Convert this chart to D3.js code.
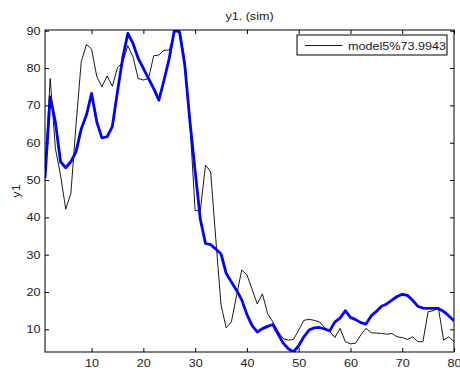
<!DOCTYPE html>
<html>
<head>
<meta charset="utf-8">
<script src="https://cdn.jsdelivr.net/npm/d3@7"></script>
<style>
  body { margin: 0; background: #fff; }
  text { font-family: "Liberation Sans", Arial, Helvetica, sans-serif; fill: #222; }
</style>
</head>
<body>
<div id="vis"></div>
<script>
// sample index 1..80
const steps = d3.range(1, 81);

// measured output (thin black line)
const measured = [
  52, 77.2, 58.5, 51.3, 42.2, 46.4, 65, 81.7, 86.3, 85.1,
  77.7, 75.0, 77.9, 75.1, 80.1, 81.5, 86.0, 83.0, 77.2, 76.8,
  77.2, 83.3, 83.5, 84.8, 84.8, 89.5, 90.2, 82, 65, 41.8,
  41.8, 54, 52.2, 34, 16.5, 10.4, 12.0, 19, 25.9, 24.6,
  20.7, 16.8, 19.5, 14.2, 12.0, 9.5, 7.5, 7.1, 7.3, 9.8,
  12.4, 12.7, 12.4, 12.0, 10.5, 9.4, 7.8, 10.3, 6.7, 6.1,
  6.3, 8.5, 10.3, 9.1, 9.0, 8.9, 8.7, 8.9, 8.0, 7.8,
  7.3, 8.0, 6.7, 6.7, 14.7, 15.0, 15.6, 7.1, 8.0, 6.7
];

// simulated model output (thick blue line)
const simulated = [
  50.5, 72.3, 65.6, 54.9, 53.3, 54.9, 57.6, 63.7, 67.4, 73.2,
  65.6, 61.3, 61.6, 64.3, 73.7, 82.6, 89.3, 86.6, 82.6, 79.9,
  77.2, 74.5, 71.4, 76.8, 82.6, 90.2, 89.6, 80.8, 65.6, 52.4,
  39.5, 33.0, 32.7, 31.5, 30.2, 25, 22.7, 20.5, 17.9, 14,
  11, 9.3, 10.2, 10.8, 11.3, 8.8, 6.3, 4.8, 3.95, 5.6,
  8.0, 9.8, 10.4, 10.5, 10.1, 9.6, 12.0, 13.0, 15.0, 13.2,
  12.6, 11.8, 11.4, 13.6, 14.8, 16.2, 16.8, 17.8, 18.8, 19.4,
  19.1, 17.8, 16.2, 15.7, 15.6, 15.6, 15.6, 14.8, 13.6, 12.3
];

const xTicks = [10, 20, 30, 40, 50, 60, 70, 80];
const yTicks = [10, 20, 30, 40, 50, 60, 70, 80, 90];
const legendLabel = 'model5%73.9943';

const W = 460, H = 371;
const plot = { left: 45, top: 30, right: 454, bottom: 352 };
const stretch = 1.2;   // the original font renders wide

const svg = d3.select('#vis')
    .append('svg')
    .attr('width', W)
    .attr('height', H);

const x = d3.scaleLinear().domain([1, 80]).range([plot.left, plot.right]);
const y = d3.scaleLinear().domain([3.93, 90.2]).range([plot.bottom, plot.top]);

// axes: inward ticks on all four sides, matlab style
function styleAxis(g) {
    g.select('.domain').remove();
    g.selectAll('line').attr('stroke', '#000').attr('stroke-width', 1);
    g.selectAll('text').attr('font-size', '10.5px').attr('fill', '#222');
}

svg.append('g')
    .attr('transform', `translate(0,${plot.bottom})`)
    .call(d3.axisBottom(x).tickValues(xTicks).tickSizeInner(-4).tickSizeOuter(0).tickPadding(8))
    .call(styleAxis)
    .selectAll('text')
    .attr('transform', `scale(${stretch},1)`);

svg.append('g')
    .attr('transform', `translate(0,${plot.top})`)
    .call(d3.axisTop(x).tickValues(xTicks).tickSizeInner(-4).tickSizeOuter(0).tickFormat(''))
    .call(styleAxis);

svg.append('g')
    .attr('transform', `translate(${plot.left},0)`)
    .call(d3.axisLeft(y).tickValues(yTicks).tickSizeInner(-4).tickSizeOuter(0).tickPadding(4.5))
    .call(styleAxis)
    .selectAll('text')
    .attr('x', -4.5 / stretch)
    .attr('transform', `scale(${stretch},1)`);

svg.append('g')
    .attr('transform', `translate(${plot.right},0)`)
    .call(d3.axisRight(y).tickValues(yTicks).tickSizeInner(-4).tickSizeOuter(0).tickFormat(''))
    .call(styleAxis);

// clip lines to the axes box
svg.append('clipPath').attr('id', 'clip')
    .append('rect')
    .attr('x', plot.left).attr('y', plot.top)
    .attr('width', plot.right - plot.left)
    .attr('height', plot.bottom - plot.top);

const line = d3.line()
    .x((d, i) => x(steps[i]))
    .y(d => y(d));

const lines = svg.append('g').attr('clip-path', 'url(#clip)');

lines.append('path')
    .datum(measured)
    .attr('fill', 'none')
    .attr('stroke', '#000')
    .attr('stroke-width', 0.9)
    .attr('d', line);

lines.append('path')
    .datum(simulated)
    .attr('fill', 'none')
    .attr('stroke', '#0000ff')
    .attr('stroke-width', 2.8)
    .attr('stroke-linejoin', 'round')
    .attr('d', line);

// box
svg.append('rect')
    .attr('x', plot.left)
    .attr('y', plot.top)
    .attr('width', plot.right - plot.left)
    .attr('height', plot.bottom - plot.top)
    .attr('fill', 'none')
    .attr('stroke', '#000')
    .attr('stroke-width', 1);

// title and y label
svg.append('g')
    .attr('transform', `translate(${(plot.left + plot.right) / 2},19.5)`)
    .append('text')
    .attr('text-anchor', 'middle')
    .attr('font-size', '10.5px')
    .attr('transform', `scale(${stretch},1)`)
    .text('y1. (sim)');

svg.append('g')
    .attr('transform', `translate(19.5,${(plot.top + plot.bottom) / 2}) rotate(-90)`)
    .append('text')
    .attr('text-anchor', 'middle')
    .attr('font-size', '10.5px')
    .attr('transform', `scale(${stretch},1)`)
    .text('y1');

// legend
const legend = svg.append('g').attr('transform', 'translate(297,35)');

legend.append('rect')
    .attr('width', 150)
    .attr('height', 20)
    .attr('fill', '#fff')
    .attr('stroke', '#000')
    .attr('stroke-width', 1);

legend.append('line')
    .attr('x1', 8).attr('x2', 45.5)
    .attr('y1', 10.5).attr('y2', 10.5)
    .attr('stroke', '#000')
    .attr('stroke-width', 0.9);

legend.append('g')
    .attr('transform', 'translate(51,14.5)')
    .append('text')
    .attr('font-size', '10.5px')
    .attr('transform', `scale(${stretch},1)`)
    .text(legendLabel);
</script>
</body>
</html>
